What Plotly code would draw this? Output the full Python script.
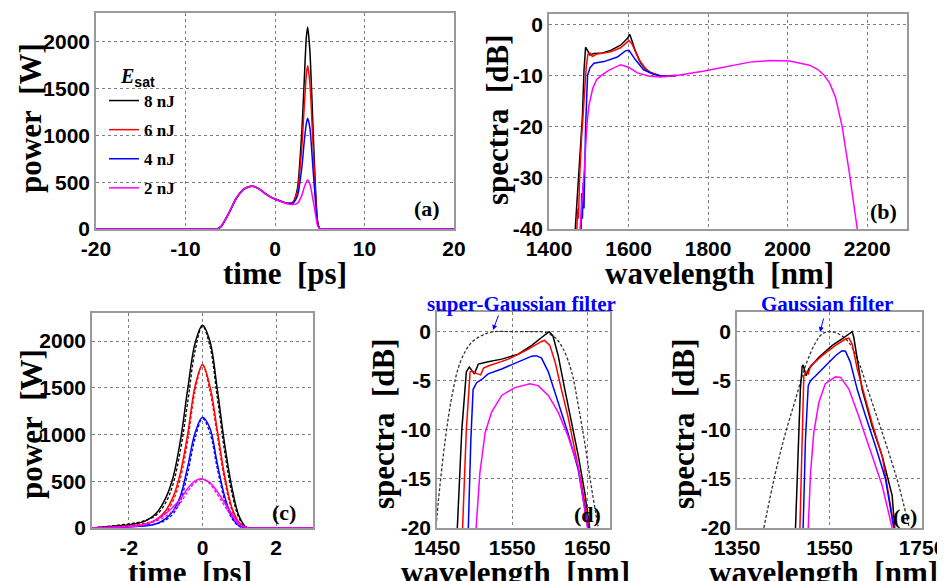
import plotly.graph_objects as go

W, H = 945, 581
OFF = 8  # the page body margin shifts the figure by 8 px
COLORS = {"8 nJ": "#000000", "6 nJ": "#ff0000", "4 nJ": "#0000ff", "2 nJ": "#ff00ff"}
SERIES = ["8 nJ", "6 nJ", "4 nJ", "2 nJ"]

# ---------------- panel (a): output pulse power vs time ----------------
time_a = [-20, -12, -7, -6.5, -6, -5.5, -5, -4.5, -4, -3.5, -3, -2.5, -2, -1.5, -1, -0.5, 0, 0.5,
          1, 1.5, 2, 2.5, 3, 3.25, 3.5, 3.65, 3.9, 4.25, 4.5, 4.75, 5, 5.5, 11, 20]
power_a_8 = [0, 0, 0, 0, 30, 110, 200, 300, 375, 425, 450, 457, 440, 410, 372, 343, 321, 302,
             285, 275, 285, 430, 1050, 1550, 2050, 2160, 1900, 1080, 480, 90, 5, 0, 0, 0]
power_a_6 = [0, 0, 0, 0, 30, 110, 200, 300, 375, 425, 450, 457, 440, 410, 372, 343, 321, 302,
             285, 274, 282, 400, 880, 1280, 1650, 1745, 1560, 900, 410, 80, 5, 0, 0, 0]
power_a_4 = [0, 0, 0, 0, 28, 105, 195, 295, 372, 423, 449, 456, 440, 410, 372, 343, 321, 302,
             285, 272, 275, 350, 660, 920, 1130, 1185, 1080, 640, 320, 60, 5, 0, 0, 0]
power_a_2 = [0, 0, 0, 0, 30, 110, 200, 300, 375, 425, 450, 457, 440, 410, 372, 343, 321, 300,
             280, 266, 262, 275, 360, 440, 505, 525, 480, 310, 170, 40, 3, 0, 0, 0]
power_a = {"8 nJ": power_a_8, "6 nJ": power_a_6, "4 nJ": power_a_4, "2 nJ": power_a_2}

# ---------------- panel (b): output spectra ----------------
wl_b_8 = [1466, 1472, 1478, 1484, 1488, 1492, 1496, 1503, 1513, 1535, 1555, 1580, 1597, 1603,
          1609, 1617, 1630, 1642, 1655, 1680, 1720]
sp_b_8 = [-40, -33, -27, -18, -9, -4.5, -5.0, -6.0, -5.7, -5.6, -5.1, -4.1, -2.8, -2.0,
          -3.3, -5.2, -7.5, -8.7, -9.4, -10.1, -10.0]
wl_b_6 = [1470, 1472, 1474, 1477, 1482, 1488, 1494, 1498, 1503, 1509, 1521, 1555, 1580, 1601,
          1609, 1626, 1640, 1651, 1680, 1720]
sp_b_6 = [-40, -36, -38, -30, -22, -14, -8, -5.8, -5.6, -6.3, -5.8, -5.4, -4.6, -3.2,
          -3.9, -6.9, -8.4, -9.3, -10.1, -10.0]
wl_b_4 = [1481, 1482, 1484, 1486, 1488, 1492, 1497, 1503, 1513, 1538, 1572, 1592, 1601, 1617,
          1638, 1663, 1690, 1720]
sp_b_4 = [-40, -33, -38, -31, -36, -20, -10, -8.5, -7.6, -7.3, -6.4, -5.2, -5.1, -6.9,
          -8.9, -9.8, -10.2, -10.0]
wl_b_2 = [1478, 1485, 1490, 1495, 1500, 1510, 1520, 1535, 1550, 1580, 1600, 1622, 1650, 1680,
          1720, 1787, 1837, 1905, 1955, 2005, 2055, 2075, 2090, 2105, 2120, 2137, 2155, 2175]
sp_b_2 = [-40, -33, -27, -20, -16, -12.5, -10.8, -9.8, -9.0, -7.9, -8.4, -9.5, -10.1, -10.3,
          -10.0, -9.2, -8.5, -7.4, -7.1, -7.2, -8.0, -8.8, -9.8, -11.4, -14.2, -20, -29, -40]
spec_b = {"8 nJ": (wl_b_8, sp_b_8), "6 nJ": (wl_b_6, sp_b_6),
          "4 nJ": (wl_b_4, sp_b_4), "2 nJ": (wl_b_2, sp_b_2)}

# ---------------- panel (c): compressed pulses (solid / dashed) ----------------
time_c = [-3, -2.5, -2, -1.75, -1.5, -1.25, -1, -0.8, -0.6, -0.4, -0.2, 0, 0.2, 0.4, 0.6, 0.8,
          1.0, 1.2, 1.5, 2, 3]
pc_8_solid = [0, 15, 35, 50, 85, 160, 320, 540, 935, 1490, 1980, 2170, 2000, 1490, 900, 430,
              120, 5, 0, 0, 0]
pc_8_dash = [0, 20, 45, 60, 90, 140, 270, 470, 830, 1350, 1900, 2160, 1950, 1400, 820, 370,
             100, 4, 0, 0, 0]
pc_6_solid = [0, 8, 18, 25, 45, 89, 185, 330, 590, 1010, 1520, 1750, 1520, 1050, 560, 215,
              55, 5, 0, 0, 0]
pc_6_dash = [0, 12, 28, 38, 55, 85, 160, 290, 530, 940, 1470, 1740, 1470, 990, 510, 190,
             45, 4, 0, 0, 0]
pc_4_solid = [0, 5, 12, 18, 25, 45, 100, 180, 340, 660, 1020, 1185, 1070, 690, 340, 120,
              22, 2, 0, 0, 0]
pc_4_dash = [0, 8, 18, 25, 32, 45, 85, 150, 290, 590, 960, 1170, 1020, 640, 300, 100,
             18, 1, 0, 0, 0]
pc_2_solid = [0, 5, 14, 22, 45, 89, 155, 225, 310, 425, 505, 525, 485, 390, 270, 150,
              45, 3, 0, 0, 0]
pc_2_dash = [0, 8, 20, 30, 45, 75, 125, 185, 270, 390, 485, 520, 470, 360, 235, 120,
             30, 2, 0, 0, 0]
power_c = {"8 nJ": (pc_8_solid, pc_8_dash), "6 nJ": (pc_6_solid, pc_6_dash),
           "4 nJ": (pc_4_solid, pc_4_dash), "2 nJ": (pc_2_solid, pc_2_dash)}

# ---------------- panel (d): super-Gaussian filtered spectra ----------------
filt_d_wl = [1449, 1452, 1461, 1470, 1481, 1496, 1514, 1527, 1550, 1580, 1593, 1607, 1618,
             1629, 1638, 1647, 1655, 1664]
filt_d_db = [-19.8, -17.1, -11.0, -6.5, -3.1, -1.1, -0.24, 0, 0, 0, -0.07, -0.6, -1.8,
             -4.1, -7.6, -11.6, -15.7, -19.8]
wl_d_8 = [1477, 1483, 1489, 1493, 1499.6, 1505, 1518, 1536, 1558, 1576, 1589, 1599, 1604,
          1611, 1620, 1629, 1638, 1646.5, 1653]
sp_d_8 = [-20, -10, -4.1, -3.6, -4.3, -3.3, -3.06, -2.8, -2.3, -1.4, -0.6, 0, -0.4,
          -2.4, -5.9, -9.3, -12.7, -16.4, -20]
wl_d_6 = [1484, 1489, 1494, 1497, 1500, 1503, 1508, 1512, 1518, 1545, 1571, 1589, 1593, 1600,
          1607, 1615.5, 1624, 1633, 1642, 1652]
sp_d_6 = [-20, -10, -4.1, -4.0, -4.2, -4.3, -4.4, -3.7, -3.5, -2.8, -1.8, -1.0, -0.9, -1.4,
          -3.1, -5.9, -8.6, -12.0, -15.4, -20]
wl_d_4 = [1491.6, 1495, 1498, 1502.6, 1509, 1518, 1536, 1558, 1576, 1582, 1589, 1598, 1611,
          1624, 1637.6, 1651]
sp_d_4 = [-20, -11, -5.9, -5.2, -4.9, -4.3, -3.8, -3.1, -2.5, -2.45, -2.7, -4.1, -7.2,
          -10.3, -14.0, -20]
wl_d_2 = [1502, 1507, 1514, 1522.6, 1536, 1553.5, 1573.5, 1584.5, 1598, 1611, 1624, 1637.6, 1650]
sp_d_2 = [-20, -14.4, -10.3, -8.2, -6.5, -5.7, -5.3, -5.5, -6.5, -8.2, -10.6, -13.7, -20]
spec_d = {"8 nJ": (wl_d_8, sp_d_8), "6 nJ": (wl_d_6, sp_d_6),
          "4 nJ": (wl_d_4, sp_d_4), "2 nJ": (wl_d_2, sp_d_2)}

# ---------------- panel (e): Gaussian filtered spectra ----------------
filt_e_wl = [1408, 1433, 1455, 1476.5, 1498, 1520, 1534, 1550, 1570, 1592, 1613, 1635, 1657,
             1678, 1700, 1721.5]
filt_e_db = [-20, -14.4, -10.3, -6.9, -3.5, -1.1, -0.24, 0, -0.24, -1.1, -3.1, -6.2, -9.3,
             -12.3, -15.7, -19.8]
wl_e_8 = [1476.5, 1482, 1487, 1491, 1493, 1499.5, 1505, 1527, 1556, 1577, 1595, 1599, 1602.6,
          1610, 1620.6, 1642, 1664, 1685.5, 1691]
sp_e_8 = [-20, -12, -5.9, -3.5, -3.4, -4.5, -3.8, -2.6, -1.4, -0.75, -0.07, 0, -0.6,
          -2.8, -5.9, -9.6, -12.7, -16.7, -20]
wl_e_6 = [1486, 1490, 1494.5, 1499.5, 1504, 1509, 1534, 1563, 1584.6, 1592, 1599, 1610, 1624,
          1642, 1664, 1690]
sp_e_6 = [-20, -11, -4.5, -4.1, -4.3, -3.5, -2.45, -1.4, -0.75, -0.65, -1.26, -3.8, -6.2,
          -9.3, -12.7, -20]
wl_e_4 = [1493, 1498, 1504, 1509, 1520, 1541, 1563, 1577, 1584.6, 1595, 1610, 1628, 1649,
          1671, 1689]
sp_e_4 = [-20, -11, -5.5, -5.0, -4.5, -3.5, -2.45, -1.94, -2.0, -3.1, -5.9, -8.6, -11.6,
          -15.0, -20]
wl_e_2 = [1504, 1509, 1516, 1527, 1541, 1563, 1574, 1592, 1613, 1635, 1664, 1685.5]
sp_e_2 = [-20, -14.4, -10.3, -7.2, -5.3, -4.6, -4.66, -5.85, -8.6, -11.6, -15.7, -20]
spec_e = {"8 nJ": (wl_e_8, sp_e_8), "6 nJ": (wl_e_6, sp_e_6),
          "4 nJ": (wl_e_4, sp_e_4), "2 nJ": (wl_e_2, sp_e_2)}

# ---------------- tick labels ----------------
ticks_a_x = [-20, -10, 0, 10, 20]
ticks_a_y = [0, 500, 1000, 1500, 2000]
ticks_b_x = [1400, 1600, 1800, 2000, 2200]
ticks_b_y = [-40, -30, -20, -10, 0]
ticks_c_x = [-2, 0, 2]
ticks_c_y = [0, 500, 1000, 1500, 2000]
ticks_d_x = [1450, 1550, 1650]
ticks_d_y = [-20, -15, -10, -5, 0]
ticks_e_x = [1350, 1550, 1750]
ticks_e_y = [-20, -15, -10, -5, 0]

SERIF = "Liberation Serif, Times New Roman, serif"
SANS = "Liberation Sans, Arial, sans-serif"


def lbl(v):
    return [str(t) for t in v]  # plain hyphen minus as in the original


def px(x):
    return (x - OFF) / W


def py(y):
    return 1 - (y - OFF) / H


fig = go.Figure()

LW = 1.5
for name in SERIES:
    fig.add_trace(go.Scatter(x=time_a, y=power_a[name], mode="lines", name=name,
                             line=dict(color=COLORS[name], width=LW, shape="spline", smoothing=0.6),
                             legendgroup=name, showlegend=True, xaxis="x", yaxis="y"))
for name in SERIES:
    wl, sp = spec_b[name]
    fig.add_trace(go.Scatter(x=wl, y=sp, mode="lines", line=dict(color=COLORS[name], width=LW),
                             showlegend=False, xaxis="x2", yaxis="y2"))
for name in SERIES:
    solid, dash = power_c[name]
    fig.add_trace(go.Scatter(x=time_c, y=dash, mode="lines",
                             line=dict(color=COLORS[name], width=1.3, dash="3px,2px", shape="spline"),
                             showlegend=False, xaxis="x3", yaxis="y3"))
    fig.add_trace(go.Scatter(x=time_c, y=solid, mode="lines",
                             line=dict(color=COLORS[name], width=LW, shape="spline"),
                             showlegend=False, xaxis="x3", yaxis="y3"))
fig.add_trace(go.Scatter(x=filt_d_wl, y=filt_d_db, mode="lines",
                         line=dict(color="#333333", width=1.3, dash="3px,2px", shape="spline"),
                         showlegend=False, xaxis="x4", yaxis="y4"))
for name in SERIES:
    wl, sp = spec_d[name]
    fig.add_trace(go.Scatter(x=wl, y=sp, mode="lines", line=dict(color=COLORS[name], width=LW),
                             showlegend=False, xaxis="x4", yaxis="y4"))
fig.add_trace(go.Scatter(x=filt_e_wl, y=filt_e_db, mode="lines",
                         line=dict(color="#333333", width=1.3, dash="3px,2px", shape="spline"),
                         showlegend=False, xaxis="x5", yaxis="y5"))
for name in SERIES:
    wl, sp = spec_e[name]
    fig.add_trace(go.Scatter(x=wl, y=sp, mode="lines", line=dict(color=COLORS[name], width=LW),
                             showlegend=False, xaxis="x5", yaxis="y5"))


def axis(rng, ticks, domain, anchor):
    return dict(range=rng, domain=domain, anchor=anchor, tickmode="array", tickvals=ticks,
                ticktext=lbl(ticks), showgrid=True, gridcolor="#7f7f7f", griddash="dot",
                gridwidth=1, zeroline=False, showline=True, mirror=True, linecolor="#9a9a9a",
                linewidth=1.5, ticks="", automargin=False,
                tickfont=dict(family=SANS, size=21, color="black", weight="bold"))


# panel pixel boxes (left, right, top, bottom) in the reference picture
boxes = {
    "a": (96, 454, 13, 229),
    "b": (549, 907, 14, 229),
    "c": (92, 313, 313, 528),
    "d": (437, 610, 312, 528),
    "e": (737, 922, 312, 528),
}


def dx(k):
    l, r, t, b = boxes[k]
    return [px(l), px(r)]


def dy(k):
    l, r, t, b = boxes[k]
    return [py(b), py(t)]


fig.update_layout(
    width=W, height=H, margin=dict(l=0, r=0, t=0, b=0),
    paper_bgcolor="white", plot_bgcolor="white",
    xaxis=axis([-20, 20], ticks_a_x, dx("a"), "y"),
    yaxis=axis([0, 2310], ticks_a_y, dy("a"), "x"),
    xaxis2=axis([1400, 2300], ticks_b_x, dx("b"), "y2"),
    yaxis2=axis([-40, 2], ticks_b_y, dy("b"), "x2"),
    xaxis3=axis([-3, 3], ticks_c_x, dx("c"), "y3"),
    yaxis3=axis([0, 2300], ticks_c_y, dy("c"), "x3"),
    xaxis4=axis([1450, 1680], ticks_d_x, dx("d"), "y4"),
    yaxis4=axis([-20, 2], ticks_d_y, dy("d"), "x4"),
    xaxis5=axis([1350, 1750], ticks_e_x, dx("e"), "y5"),
    yaxis5=axis([-20, 2], ticks_e_y, dy("e"), "x5"),
    showlegend=True,
    legend=dict(x=px(104), y=py(57), xanchor="left", yanchor="top",
                bgcolor="rgba(0,0,0,0)", borderwidth=0, traceorder="grouped",
                tracegroupgap=4,
                font=dict(family=SERIF, size=17, color="black", weight="bold"),
                title=dict(text="&nbsp;&nbsp;&nbsp;<i>E</i><sub><span style='font-family:Liberation Sans'>sat</span></sub>",
                           font=dict(family=SERIF, size=20, color="black", weight="bold"))),
)

# axis titles (text, centre x, centre y, angle)
axis_titles = [
    ("time&nbsp; [ps]", 285, 273, 0), ("power&nbsp; [W]", 30, 118, -90),
    ("wavelength&nbsp; [nm]", 719, 274, 0), ("spectra&nbsp; [dB]", 498, 120, -90),
    ("time&nbsp; [ps]", 190, 572, 0), ("power&nbsp; [W]", 31, 424, -90),
    ("wavelength&nbsp; [nm]", 515, 572, 0), ("spectra&nbsp; [dB]", 383, 424, -90),
    ("wavelength&nbsp; [nm]", 823, 572, 0), ("spectra&nbsp; [dB]", 683, 424, -90),
]
for txt, x, y, ang in axis_titles:
    fig.add_annotation(text=txt, x=px(x), y=py(y), xref="paper", yref="paper",
                       showarrow=False, xanchor="center", yanchor="middle", textangle=ang,
                       font=dict(family=SERIF, size=31, color="black", weight="bold"))

panel_labels = [("(a)", 427, 209), ("(b)", 883, 211), ("(c)", 284, 512),
                ("(d)", 587, 514), ("(e)", 905, 516)]
for txt, x, y in panel_labels:
    fig.add_annotation(text=txt, x=px(x), y=py(y), xref="paper", yref="paper",
                       showarrow=False, xanchor="center", yanchor="middle",
                       font=dict(family=SERIF, size=22, color="black", weight="bold"))

filter_labels = [("super-Gaussian filter", 521, 304), ("Gaussian filter", 827, 304)]
for txt, x, y in filter_labels:
    fig.add_annotation(text=txt, x=px(x), y=py(y), xref="paper", yref="paper",
                       showarrow=False, xanchor="center", yanchor="middle",
                       font=dict(family=SERIF, size=21, color="#0000ff", weight="bold"))
arrows = [(493, 330, 499, 314), (820, 332, 824, 317)]
for hx, hy, tx, ty in arrows:
    fig.add_annotation(text="", x=px(hx), y=py(hy), xref="paper", yref="paper",
                       showarrow=True, ax=tx - hx, ay=ty - hy, arrowhead=2, arrowsize=1,
                       arrowwidth=1, arrowcolor="#0000ff")

fig.write_html("out.html")
